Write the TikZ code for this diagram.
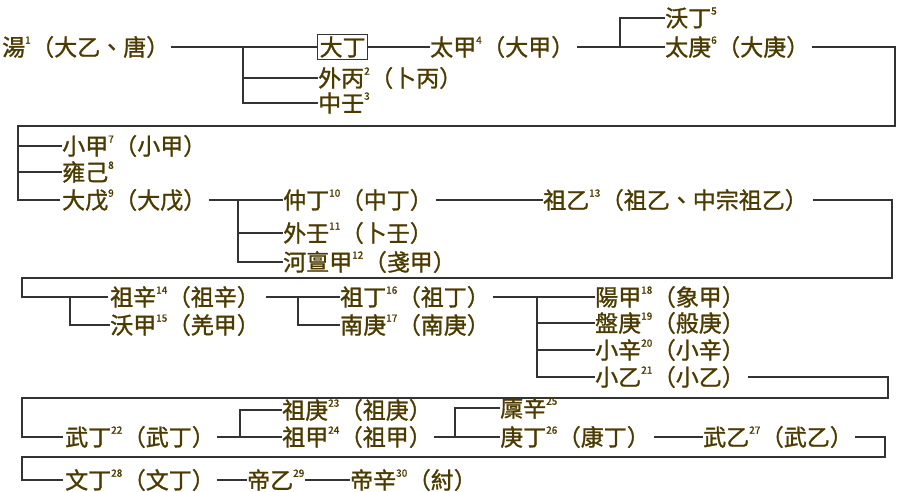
\documentclass[tikz,border=0pt]{standalone}
\usepackage{fontspec}
\setmainfont{Noto Sans CJK TC}[FakeBold=1.2]
\definecolor{txt}{rgb}{0.30,0.23,0.0}
\definecolor{ln}{rgb}{0.2,0.2,0.2}
\newcommand{\sk}[1]{\raisebox{3pt}{\textsuperscript{\fontsize{10}{10}\selectfont #1}}}
\begin{document}
\begin{tikzpicture}[x=1pt,y=-1pt,
  k/.style={anchor=west,inner sep=0pt,text=txt,font=\fontsize{23}{23}\selectfont},
  l/.style={draw=ln,line width=1.3pt}]
\useasboundingbox (0,0) rectangle (900,491);
% row 1
\node[k] (t1) at (2,47) {湯\sk{1}（大乙、唐）};
\node[k,draw=ln,line width=1.3pt,inner sep=2pt] (t0) at (317,47) {大丁};
\node[k] (t2) at (318,78) {外丙\sk{2}（卜丙）};
\node[k] (t3) at (318,103) {中壬\sk{3}};
\node[k] (t4) at (430,47) {太甲\sk{4}（大甲）};
\node[k] (t5) at (665,18) {沃丁\sk{5}};
\node[k] (t6) at (665,47) {太庚\sk{6}（大庚）};
\draw[l] (t1.east)+(2,0) -- (t0.west);
\draw[l] (243,47) |- (t3.west);
\draw[l] (243,78) -- (t2.west);
\draw[l] (t0.east) -- (t4.west);
\draw[l] (t4.east)+(3,0) -- (t6.west);
\draw[l] (620,47) |- (t5.west);
\draw[l] (t6.east)+(3,0) -- (895,47) -- (895,126) -- (18,126) |- (60,200);
% row 2
\node[k] (t7) at (62,146) {小甲\sk{7}（小甲）};
\node[k] (t8) at (62,172) {雍己\sk{8}};
\node[k] (t9) at (62,200) {大戊\sk{9}（大戊）};
\node[k] (t10) at (283,200) {仲丁\sk{10}（中丁）};
\node[k] (t11) at (283,233) {外壬\sk{11}（卜壬）};
\node[k] (t12) at (283,262) {河亶甲\sk{12}（戔甲）};
\node[k] (t13) at (543,200) {祖乙\sk{13}（祖乙、中宗祖乙）};
\draw[l] (18,146) -- (t7.west);
\draw[l] (18,172) -- (t8.west);
\draw[l] (t9.east)+(3,0) -- (t10.west);
\draw[l] (238,200) |- (t12.west);
\draw[l] (238,233) -- (t11.west);
\draw[l] (t10.east)+(3,0) -- (t13.west);
\draw[l] (t13.east)+(5,0) -- (892,200) -- (892,278) -- (22,278) |- (108,297);
% row 3
\node[k] (t14) at (110,297) {祖辛\sk{14}（祖辛）};
\node[k] (t15) at (110,325) {沃甲\sk{15}（羌甲）};
\node[k] (t16) at (340,297) {祖丁\sk{16}（祖丁）};
\node[k] (t17) at (340,325) {南庚\sk{17}（南庚）};
\node[k] (t18) at (595,297) {陽甲\sk{18}（象甲）};
\node[k] (t19) at (595,323) {盤庚\sk{19}（般庚）};
\node[k] (t20) at (595,350) {小辛\sk{20}（小辛）};
\node[k] (t21) at (595,377) {小乙\sk{21}（小乙）};
\draw[l] (70,297) |- (t15.west);
\draw[l] (t14.east)+(6,0) -- (t16.west);
\draw[l] (298,297) |- (t17.west);
\draw[l] (t16.east)+(3,0) -- (t18.west);
\draw[l] (537,297) |- (t21.west);
\draw[l] (537,323) -- (t19.west);
\draw[l] (537,350) -- (t20.west);
\draw[l] (t21.east)+(3,0) -- (888,377) -- (888,398) -- (22,398) |- (63,437);
% row 4
\node[k] (t22) at (65,437) {武丁\sk{22}（武丁）};
\node[k] (t23) at (282,410) {祖庚\sk{23}（祖庚）};
\node[k] (t24) at (282,437) {祖甲\sk{24}（祖甲）};
\node[k] (t25) at (500,408) {廩辛\sk{25}};
\node[k] (t26) at (500,437) {庚丁\sk{26}（康丁）};
\node[k] (t27) at (703,437) {武乙\sk{27}（武乙）};
\draw[l] (t22.east)+(2,0) -- (t24.west);
\draw[l] (240,437) |- (t23.west);
\draw[l] (t24.east)+(2,0) -- (t26.west);
\draw[l] (455,437) |- (t25.west);
\draw[l] (t26.east)+(4,0) -- (t27.west);
\draw[l] (t27.east)+(2,0) -- (885,437) -- (885,457) -- (22,457) |- (63,480);
% row 5
\node[k] (t28) at (65,480) {文丁\sk{28}（文丁）};
\node[k] (t29) at (247,480) {帝乙\sk{29}};
\node[k] (t30) at (350,480) {帝辛\sk{30}（紂）};
\draw[l] (t28.east)+(2,0) -- (t29.west);
\draw[l] (t29.east) -- (t30.west);
\end{tikzpicture}
\end{document}
